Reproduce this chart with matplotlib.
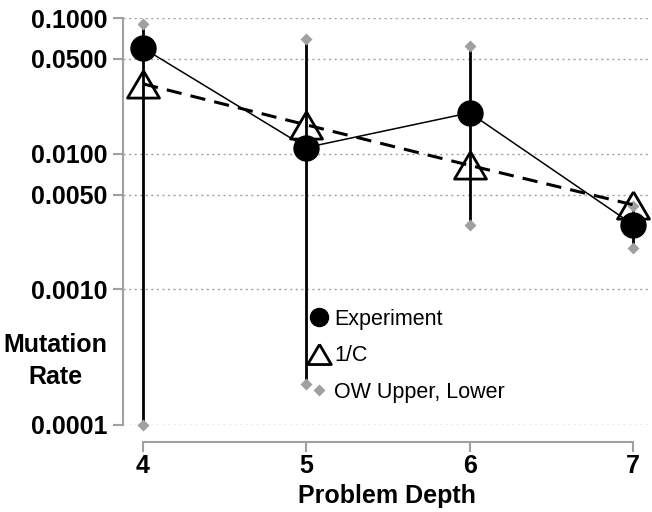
import matplotlib.pyplot as plt
from matplotlib.lines import Line2D

# Problem depth vs mutation rate
depth = [4, 5, 6, 7]
experiment = [0.060, 0.0111, 0.020, 0.0030]
inv_c = [0.0327, 0.0163, 0.0082, 0.0042]
ow_upper = [0.090, 0.070, 0.062, 0.0041]
ow_lower = [0.0001, 0.0002, 0.0030, 0.0020]
ytick_vals = [0.0001, 0.001, 0.005, 0.01, 0.05, 0.1]
ytick_labels = ['0.0001', '0.0010', '0.0050', '0.0100', '0.0500', '0.1000']

plt.rcParams['font.family'] = ['Liberation Sans', 'DejaVu Sans']

fig = plt.figure(figsize=(6.52, 5.12), dpi=100)
ax = fig.add_axes([123 / 652, 87 / 512, 527 / 652, 407 / 512])

gray = '#a0a0a0'
tri = [(0, 0.85), (-1, -0.85), (1, -0.85), (0, 0.85)]

# error bars between OW lower and upper bounds
ax.vlines(depth, ow_lower, ow_upper, color='black', lw=2, zorder=2)
ax.plot(depth, ow_upper, 'D', color=gray, ms=6, mec='none', zorder=3, clip_on=False)
ax.plot(depth, ow_lower, 'D', color=gray, ms=6, mec='none', zorder=3, clip_on=False)
ax.plot(depth, experiment, '-', color='black', lw=1.1, zorder=4)
ax.plot(depth, inv_c, '--', color='black', lw=2.2, dashes=(5, 3), zorder=4)
ax.plot(depth, experiment, 'o', color='black', ms=18, zorder=5, clip_on=False)
ax.plot(depth, inv_c, ls='none', marker=tri, ms=23, mfc='none', mec='black',
        mew=2, zorder=6, clip_on=False)

for s in ['top', 'right']:
    ax.spines[s].set_visible(False)
ax.spines['bottom'].set_position(('outward', 12))
ax.spines['left'].set_color(gray)
ax.spines['left'].set_linewidth(1.5)
ax.spines['bottom'].set_color(gray)
ax.spines['bottom'].set_linewidth(1.5)

ax.set_yscale('log')
ax.set_ylim(1e-4, 0.1)
ax.set_xlim(4 - 20 / 163, 7 + 17 / 163)
ax.yaxis.set_minor_locator(plt.NullLocator())
ax.set_yticks(ytick_vals, ytick_labels, fontsize=18, fontweight='bold')
ax.set_xticks(depth, [str(d) for d in depth], fontsize=18, fontweight='bold')
ax.spines['left'].set_bounds(1e-4, 0.1)
ax.spines['bottom'].set_bounds(4, 7)

ax.tick_params(axis='both', color=gray, length=7, width=1.5, pad=4)
ax.tick_params(axis='x', pad=2)
ax.grid(axis='y', color=gray, ls=(0, (1.5, 2.5)), lw=1)

ax.set_xlabel('Problem Depth', fontsize=18, fontweight='bold', labelpad=4)
fig.text(55 / 652, 1 - 361 / 512, 'Mutation\nRate', ha='center', va='center',
         fontsize=18, fontweight='bold', linespacing=1.45)

handles = [
    Line2D([], [], ls='none', marker='o', color='black', ms=13),
    Line2D([], [], ls='none', marker=tri, ms=17, mfc='none', mec='black', mew=2),
    Line2D([], [], ls='none', marker='D', color=gray, mec='none', ms=6),
]
fig.legend(handles, ['Experiment', '1/C', 'OW Upper, Lower'],
           loc='upper left', bbox_to_anchor=(300 / 652, 1 - 300 / 512),
           frameon=False, fontsize=15.5, handlelength=1.0, handletextpad=0.2,
           labelspacing=0.72, borderaxespad=0)

fig.savefig('out.png', dpi=100)
